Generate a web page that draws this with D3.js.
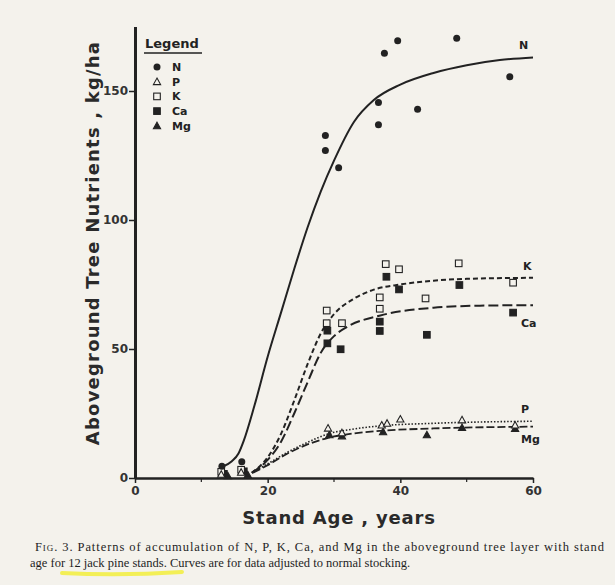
<!DOCTYPE html>
<html>
<head>
<meta charset="utf-8">
<script src="https://cdn.jsdelivr.net/npm/d3@7"></script>
<style>
  html, body { margin: 0; padding: 0; background: #f4f2ec; }
  svg { display: block; }
</style>
</head>
<body>
<svg id="chart" width="615" height="585"></svg>
<script>
'use strict';

// axis ticks
var ageTicks = [0, 20, 40, 60];
var ageMinorTicks = [10, 30, 50];
var nutrientTicks = [0, 50, 100, 150];

// measured stands [age, kg/ha]
var nPoints = [[13.1,4.6],[16.1,6.3],[28.7,132.8],[28.7,126.9],[30.7,120.3],[36.7,145.5],[36.7,136.9],[37.6,164.6],[39.6,169.5],[42.6,142.9],[48.5,170.4],[56.5,155.5]];
var pPoints = [[13,1.4],[16,2.2],[29.1,19.3],[31.2,17.5],[37.2,20.5],[38,21.2],[40,22.8],[49.3,22.5],[57.3,20.5]];
var kPoints = [[13,2.4],[16,3.2],[28.9,64.9],[28.9,60],[31.2,60],[36.9,70],[36.9,65.6],[37.8,82.9],[39.8,80.9],[43.8,69.6],[48.8,83.2],[57,75.7]];
var caPoints = [[13.4,1.6],[16.4,2.6],[29,57.1],[29,52.2],[31,49.9],[36.9,60.6],[36.9,57],[37.9,78],[39.8,73.1],[44,55.5],[48.9,74.8],[57,64.1]];
var mgPoints = [[14,0.8],[17,1.2],[29.3,16.7],[31.2,16.3],[37.4,17.9],[44,16.7],[49.3,19.5],[57.3,19.2]];

// fitted curves
var nCurve = [[13.3,4.5],[14.6,6.5],[15.6,9.5],[16.4,14.5],[18,28],[20,47],[22,64],[24,81],[26,97],[28,111],[30,123],[33,138],[36,146.5],[40,152.5],[45,157],[50,160],[55,162],[60,163]];
var kCurve = [[17.6,2],[20,8],[22,17],[24,30],[26,44],[28,56],[30,63.5],[33,69.5],[36,73],[40,75],[45,76.5],[50,77.2],[60,77.6]];
var caCurve = [[17.6,2],[20,7],[22,14],[24,25],[26,37],[28,48.5],[30,55],[32,58.6],[37,63],[45,66],[52,66.8],[60,67]];
var pCurve = [[17.8,2.4],[20,5.5],[23,10],[26,13.8],[29,17],[33,19],[37,20.2],[45,21.2],[60,22]];
var mgCurve = [[17.8,2],[20,5],[23,9.5],[26,13],[29,15.5],[33,17.3],[37,18.3],[45,19.2],[60,19.9]];

var legendNames = ['N', 'P', 'K', 'Ca', 'Mg'];

var strInk = '#222';
var strPaper = '#f4f2ec';
var svg = d3.select('#chart');

var x = d3.scaleLinear().domain([0, 60]).range([135, 533]);
var y = d3.scaleLinear().domain([0, 175]).range([478, 26.5]);

// axes
var gY = svg.append('g').attr('transform', 'translate(' + x(0) + ',0)')
	.call(d3.axisLeft(y).tickValues(nutrientTicks).tickSize(6).tickSizeOuter(0).tickPadding(1));
gY.select('.domain').attr('stroke', strInk).attr('stroke-width', 3);
gY.selectAll('.tick line').attr('stroke', strInk).attr('stroke-width', 1.5);
gY.selectAll('.tick text').attr('fill', '#333').style('font', 'bold 12px "DejaVu Sans"');

var gX = svg.append('g').attr('transform', 'translate(0,' + y(0) + ')')
	.call(d3.axisBottom(x).tickValues(ageTicks).tickSize(5).tickSizeOuter(0).tickPadding(3));
gX.select('.domain').attr('stroke', strInk).attr('stroke-width', 2.5);
gX.selectAll('.tick line').attr('stroke', strInk).attr('stroke-width', 1.5);
gX.selectAll('.tick text').attr('fill', '#333').style('font', 'bold 12px "DejaVu Sans"');

svg.append('g').selectAll('line').data(ageMinorTicks).enter().append('line')
	.attr('x1', function(d) { return x(d); }).attr('x2', function(d) { return x(d); })
	.attr('y1', y(0)).attr('y2', y(0) + 4)
	.attr('stroke', strInk).attr('stroke-width', 1.2);

// axis titles
svg.append('text')
	.attr('transform', 'translate(99,' + 243 + ') rotate(-90)')
	.attr('text-anchor', 'middle')
	.attr('fill', '#2a2a2a')
	.style('font', 'bold 18px "DejaVu Sans"')
	.style('letter-spacing', '1.2px')
	.text('Aboveground Tree Nutrients , kg/ha');

svg.append('text')
	.attr('x', 339).attr('y', 524)
	.attr('text-anchor', 'middle')
	.attr('fill', '#2a2a2a')
	.style('font', 'bold 18px "DejaVu Sans"')
	.style('letter-spacing', '0.8px')
	.text('Stand Age , years');

// curves
var line = d3.line()
	.x(function(d) { return x(d[0]); })
	.y(function(d) { return y(d[1]); })
	.curve(d3.curveMonotoneX);

var arrayCurves = [
	{ data: nCurve, dash: null, width: 2 },
	{ data: kCurve, dash: '5,3', width: 2 },
	{ data: caCurve, dash: '10,4', width: 2 },
	{ data: pCurve, dash: '1.5,1.8', width: 1.6 },
	{ data: mgCurve, dash: '8,3', width: 1.8 }
];
arrayCurves.forEach(function(c)
{
	svg.append('path')
		.attr('d', line(c.data))
		.attr('fill', 'none')
		.attr('stroke', strInk)
		.attr('stroke-width', c.width)
		.attr('stroke-dasharray', c.dash);
});

// markers
function drawMarker(g, strKind, cx, cy)
{
	if (strKind == 'N')
	{
		g.append('circle').attr('cx', cx).attr('cy', cy).attr('r', 3.5).attr('fill', strInk);
	}
	else if (strKind == 'K' || strKind == 'Ca')
	{
		g.append('rect').attr('x', cx - 3.3).attr('y', cy - 3.3).attr('width', 6.6).attr('height', 6.6)
			.attr('fill', strKind == 'Ca' ? strInk : strPaper)
			.attr('stroke', strInk).attr('stroke-width', 1.1);
	}
	else
	{
		var s = 3.6;
		g.append('path')
			.attr('d', 'M' + cx + ',' + (cy - s) + 'L' + (cx + s) + ',' + (cy + s * 0.8) + 'L' + (cx - s) + ',' + (cy + s * 0.8) + 'Z')
			.attr('fill', strKind == 'Mg' ? strInk : strPaper)
			.attr('stroke', strInk).attr('stroke-width', 1.1);
	}
}

var gPoints = svg.append('g');
[['Ca', caPoints], ['K', kPoints], ['Mg', mgPoints], ['P', pPoints], ['N', nPoints]].forEach(function(s)
{
	s[1].forEach(function(d) { drawMarker(gPoints, s[0], x(d[0]), y(d[1])); });
});

// curve labels
var arrayLabels = [['N', 60, 163, -14, -8], ['K', 60, 77.6, -10, -8], ['Ca', 60, 67, -12, 22], ['P', 60, 22, -12, -8], ['Mg', 60, 19.9, -12, 16]];
arrayLabels.forEach(function(l)
{
	svg.append('text')
		.attr('x', x(l[1]) + l[3]).attr('y', y(l[2]) + l[4])
		.attr('fill', strInk)
		.style('font', 'bold 11px "DejaVu Sans"')
		.text(l[0]);
});

// legend
var gLegend = svg.append('g');
gLegend.append('text').attr('x', 145).attr('y', 48)
	.attr('fill', strInk).style('font', 'bold 13px "DejaVu Sans"').text('Legend');
gLegend.append('line').attr('x1', 144).attr('x2', 202).attr('y1', 53).attr('y2', 53)
	.attr('stroke', strInk).attr('stroke-width', 1.5);
legendNames.forEach(function(strName, i)
{
	var cy = 67 + i * 14.7;
	drawMarker(gLegend, strName, 157, cy);
	gLegend.append('text').attr('x', 172).attr('y', cy + 4)
		.attr('fill', strInk).style('font', 'bold 11px "DejaVu Sans"').text(strName);
});

// highlighter under the caption
svg.append('path')
	.attr('d', 'M62,573 Q120,576 182,572')
	.attr('fill', 'none').attr('stroke', '#f2ee3c').attr('stroke-width', 4)
	.attr('stroke-linecap', 'round').attr('opacity', 0.85);

// caption
var strCaption1 = ' Patterns of accumulation of N, P, K, Ca, and Mg in the aboveground tree layer with stand';
var strCaption2 = 'age for 12 jack pine stands. Curves are for data adjusted to normal stocking.';
var tCap = svg.append('text').attr('x', 35).attr('y', 551)
	.attr('fill', '#1e1e1e').style('font', '12.5px "Liberation Serif"')
	.attr('textLength', 569).attr('lengthAdjust', 'spacing');
tCap.append('tspan').style('font-variant', 'small-caps').text('Fig. 3.');
tCap.append('tspan').text(strCaption1);
svg.append('text').attr('x', 30).attr('y', 567)
	.attr('fill', '#1e1e1e').style('font', '12.5px "Liberation Serif"')
	.text(strCaption2);
</script>
</body>
</html>
